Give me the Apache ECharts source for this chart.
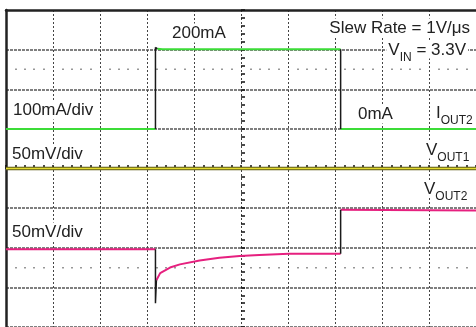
<!DOCTYPE html>
<html lang="en">
<head>
	<meta charset="UTF-8">
	<script src="https://cdn.jsdelivr.net/npm/echarts@6/dist/echarts.min.js"></script>
	<style>
		html, body { margin: 0; padding: 0; background: #fff; }
		#scope { width: 476px; height: 327px; }
	</style>
	<title>Load transient</title>
</head>
<body>
	<div id="scope"></div>
	<script>
		// time in screen divisions (10 across the capture)
		var iTime = [0, 3.18, 3.18, 3.22, 3.33, 7.12, 7.12, 10];
		var iOut2 = [0, 0, 206, 202, 201, 201, 0, 0];          // mA, 100mA/div
		var v1Time = [0, 10];
		var vOut1 = [0, 0];                                      // mV, 50mV/div
		var vTime = [0, 3.18, 3.18, 3.2, 3.28, 3.49, 3.7, 4.12, 4.54, 4.97, 5.39, 6.02, 7.12, 7.12, 10];
		var vOut2 = [-2, -2, -70, -41, -32, -25, -21, -16, -12.5, -10.5, -9, -7.5, -7.5, 48, 47]; // mV, 50mV/div

		// near-vertical steps are drawn dark like on the scope, the rest in the trace colour
		function splitTrace(t, v) {
			var trace = [], edges = [];
			for (var i = 0; i < t.length; i++) {
				if (i > 0 && t[i] - t[i - 1] < 0.05) {
					trace.push([t[i], '-']);
					edges.push([t[i - 1], v[i - 1]], [t[i], v[i]], [t[i], '-']);
				}
				trace.push([t[i], v[i]]);
			}
			return { trace: trace, edges: edges };
		}
		var i2 = splitTrace(iTime, iOut2);
		var v2 = splitTrace(vTime, vOut2);
		var v1 = splitTrace(v1Time, vOut1);

		var font = '"Liberation Sans", Arial, sans-serif';
		var hidden = { show: false };

		function tickAxis(extra) {
			var a = {
				type: 'value', min: 0, max: 10, interval: 1,
				axisLine: { show: false, onZero: false },
				axisLabel: hidden, splitLine: hidden,
				axisTick: { show: true, length: 2, lineStyle: { color: '#111', width: 1.5 } },
				minorTick: { show: true, splitNumber: 5, length: 2, lineStyle: { color: '#111', width: 1.5 } }
			};
			return Object.assign(a, extra);
		}

		function label(text, x, y, align) {
			return {
				type: 'text', x: x, y: y, z: 100,
				style: {
					text: text, font: '17px ' + font, fill: '#222',
					align: align || 'left', verticalAlign: 'middle',
					backgroundColor: '#fff', padding: [1, 2]
				}
			};
		}
		function subLabel(text, x, y, align) {
			return {
				type: 'text', x: x, y: y, z: 100,
				style: {
					text: text, fill: '#222', align: align || 'left', verticalAlign: 'top',
					backgroundColor: '#fff', padding: [0, 2],
					rich: {
						m: { font: '17px ' + font, lineHeight: 17, verticalAlign: 'top', fill: '#222' },
						s: { font: '12px ' + font, lineHeight: 12, padding: [10, 0, 0, 0], verticalAlign: 'top', fill: '#222' }
					}
				}
			};
		}

		var chart = echarts.init(document.getElementById('scope'));
		chart.setOption({
			animation: false,
			backgroundColor: '#fff',
			grid: { left: 6, top: 10, width: 474, height: 320 },
			xAxis: [
				{
					type: 'value', min: 0, max: 10, interval: 1, position: 'top',
					axisLine: { show: true, onZero: false, lineStyle: { color: '#222', width: 2.5 } },
					axisTick: hidden, axisLabel: hidden,
					splitLine: { show: true, showMinLine: false, lineStyle: { color: '#444', width: 1, type: [2, 2] } }
				},
				tickAxis({ position: 'bottom', offset: -160 }),
				tickAxis({ position: 'bottom', offset: -160, axisTick: { show: true, inside: true, length: 2, lineStyle: { color: '#111', width: 1.5 } } }),
				tickAxis({
					position: 'top', offset: -60,
					axisTick: hidden,
					minorTick: { show: true, splitNumber: 5, length: 1.5, lineStyle: { color: '#777', width: 1.5 } }
				}),
				tickAxis({
					position: 'bottom', offset: -60,
					axisTick: hidden,
					minorTick: { show: true, splitNumber: 5, length: 1.5, lineStyle: { color: '#777', width: 1.5 } }
				})
			],
			yAxis: [
				{
					type: 'value', min: -4, max: 4, interval: 1, position: 'left',
					axisLine: { show: true, onZero: false, lineStyle: { color: '#222', width: 2.5 } },
					axisTick: hidden, axisLabel: hidden,
					splitLine: { show: true, showMaxLine: false, lineStyle: { color: '#555', width: 1.5, type: [3, 1] } }
				},
				tickAxis({ min: -4, max: 4, position: 'left', offset: -237 }),
				tickAxis({ min: -4, max: 4, position: 'left', offset: -237, axisTick: { show: true, inside: true, length: 2, lineStyle: { color: '#111', width: 1.5 } } }),
				{ type: 'value', min: -500, max: 300, show: false },
				{ type: 'value', min: -200, max: 200, show: false },
				{ type: 'value', min: -100, max: 300, show: false }
			],
			series: [
				{ name: 'VOUT1 edge', type: 'line', yAxisIndex: 4, data: v1.trace, symbol: 'none', z: 2, silent: true,
					lineStyle: { color: '#5c5814', width: 3.5 } },
				{ name: 'VOUT1', type: 'line', yAxisIndex: 4, data: v1.trace, symbol: 'none', z: 2, silent: true,
					lineStyle: { color: '#e2da30', width: 1.5 } },
				{ name: 'IOUT2', type: 'line', yAxisIndex: 3, data: i2.trace, symbol: 'none', z: 3, silent: true,
					lineStyle: { color: '#3cdc38', width: 2 } },
				{ name: 'IOUT2 steps', type: 'line', yAxisIndex: 3, data: i2.edges, symbol: 'none', z: 4, silent: true,
					lineStyle: { color: '#1a1a1a', width: 1.5 } },
				{ name: 'VOUT2', type: 'line', yAxisIndex: 5, data: v2.trace, symbol: 'none', z: 3, silent: true,
					lineStyle: { color: '#e6207f', width: 2 } },
				{ name: 'VOUT2 steps', type: 'line', yAxisIndex: 5, data: v2.edges, symbol: 'none', z: 4, silent: true,
					lineStyle: { color: '#1a1a1a', width: 1.5 } }
			],
			graphic: [
				label('200mA', 170, 33),
				label('Slew Rate = 1V/\u03bcs', 472, 28, 'right'),
				subLabel('{m|V}{s|IN}{m| = 3.3V}', 468, 41.5, 'right'),
				label('100mA/div', 11, 110),
				label('50mV/div', 10, 154),
				label('0mA', 356, 114),
				subLabel('{m|I}{s|OUT2}', 434, 104.5),
				subLabel('{m|V}{s|OUT1}', 424, 141.5),
				subLabel('{m|V}{s|OUT2}', 422, 180.5),
				label('50mV/div', 10, 232)
			]
		});
	</script>
</body>
</html>
